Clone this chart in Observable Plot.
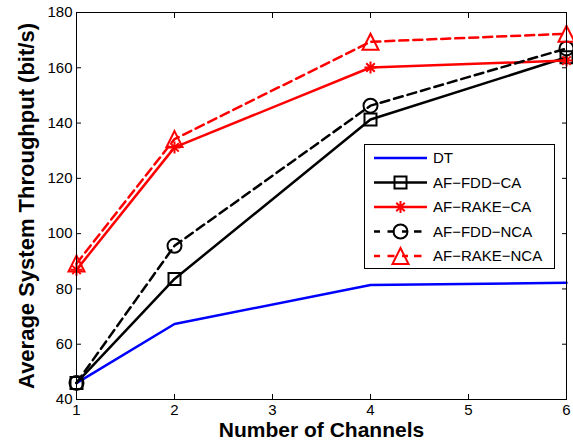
<!DOCTYPE html>
<html><head><meta charset="utf-8">
<script src="https://cdn.jsdelivr.net/npm/d3@7"></script>
<script src="https://cdn.jsdelivr.net/npm/@observablehq/plot@0.6"></script>
<style>
body{margin:0;background:#fff;}
#wrap{position:relative;width:573px;height:447px;font-family:"Liberation Sans",Arial,sans-serif;overflow:hidden;}
#legend{position:absolute;left:0;top:0;}
</style></head><body><div id="wrap"></div>
<script>
// ---- data ----
const channels = [1, 2, 4, 6];
const dt        = [45.9, 67.3, 81.4, 82.2];
const afFddCa   = [46.0, 83.6, 141.3, 163.8];
const afRakeCa  = [86.9, 131.2, 160.1, 162.6];
const afFddNca  = [46.0, 95.6, 146.3, 167.0];
const afRakeNca = [89.2, 134.2, 169.4, 172.3];
const seriesNames = ["DT", "AF\u2212FDD\u2212CA", "AF\u2212RAKE\u2212CA", "AF\u2212FDD\u2212NCA", "AF\u2212RAKE\u2212NCA"];
const xTicks = [1, 2, 3, 4, 5, 6];
const yTicks = [40, 60, 80, 100, 120, 140, 160, 180];
const xLabel = "Number of Channels";
const yLabel = "Average System Throughput (bit/s)";

// ---- custom Matlab-like symbols ----
const symSquare = {draw(ctx, size){const h = Math.sqrt(size/Math.PI); ctx.rect(-h,-h,2*h,2*h);}};
const symTriangle = {draw(ctx, size){const h = Math.sqrt(size/Math.PI); ctx.moveTo(0,-h); ctx.lineTo(h,h); ctx.lineTo(-h,h); ctx.closePath();}};
const symAsterisk = {draw(ctx, size){const h = Math.sqrt(size/Math.PI), d = h*Math.SQRT1_2;
  ctx.moveTo(-h,0); ctx.lineTo(h,0); ctx.moveTo(0,-h); ctx.lineTo(0,h);
  ctx.moveTo(-d,-d); ctx.lineTo(d,d); ctx.moveTo(-d,d); ctx.lineTo(d,-d);}};
const symCircle = {draw(ctx, size){const h = Math.sqrt(size/Math.PI); ctx.moveTo(h,0); ctx.arc(0,0,h,0,2*Math.PI);}};

const styles = [
  {color: "#0000ff", dash: null, symbol: null, r: 0},
  {color: "#000000", dash: null, symbol: symSquare, r: 6},
  {color: "#ff0000", dash: null, symbol: symAsterisk, r: 6},
  {color: "#000000", dash: "9,5", symbol: symCircle, r: 7},
  {color: "#ff0000", dash: "9,5", symbol: symTriangle, r: 8}
];
const values = [dt, afFddCa, afRakeCa, afFddNca, afRakeNca];
const rows = [];
values.forEach((vals, s) => vals.forEach((v, i) => rows.push({series: seriesNames[s], s, x: channels[i], y: v})));

const marks = [];
styles.forEach((st, s) => {
  const d = rows.filter(r => r.s === s);
  marks.push(Plot.line(d, {x: "x", y: "y", stroke: st.color, strokeWidth: 2.5, strokeDasharray: st.dash}));
  if (st.symbol) marks.push(Plot.dot(d, {x: "x", y: "y", symbol: st.symbol, r: st.r, stroke: st.color, strokeWidth: 2, fill: "none"}));
});

const chart = Plot.plot({
  width: 573, height: 447,
  marginLeft: 76, marginRight: 7, marginTop: 12, marginBottom: 48,
  style: {fontFamily: "'Liberation Sans', Arial, sans-serif", fontSize: "15px", color: "black", background: "white", overflow: "visible"},
  x: {domain: [1, 6]},
  y: {domain: [40, 180]},
  marks: [
    ...marks,
    Plot.frame({stroke: "black", strokeWidth: 1}),
    Plot.axisY({ticks: yTicks, tickSize: -5, tickPadding: 9, tickFormat: d => String(d), label: null, fontSize: 15}),
    Plot.axisY({anchor: "right", ticks: yTicks, tickSize: -5, tickFormat: () => "", label: null}),
    Plot.axisX({ticks: xTicks, tickSize: -5, tickPadding: 10, tickFormat: d => String(d), label: null, fontSize: 15}),
    Plot.axisX({anchor: "top", ticks: xTicks, tickSize: -5, tickFormat: () => "", label: null}),
    Plot.text([xLabel], {frameAnchor: "bottom", dy: 37.5, text: d => d, fontSize: 21, fontWeight: "bold", textAnchor: "middle"}),
    Plot.text([yLabel], {frameAnchor: "left", dx: -50, rotate: -90, text: d => d, fontSize: 22, fontWeight: "bold", textAnchor: "middle"})
  ]
});
const wrap = document.getElementById("wrap");
wrap.appendChild(chart);

// ---- legend overlay ----
const lg = d3.select(wrap).append("svg").attr("id", "legend").attr("width", 573).attr("height", 447);
const box = {x: 364.5, y: 144.5, w: 190, h: 124};
lg.append("rect").attr("x", box.x).attr("y", box.y).attr("width", box.w).attr("height", box.h)
  .attr("fill", "white").attr("stroke", "black").attr("stroke-width", 1);
seriesNames.forEach((name, i) => {
  const st = styles[i];
  const cy = 158 + i * 24.5;
  const g = lg.append("g");
  g.append("line").attr("x1", 374).attr("x2", 427).attr("y1", cy).attr("y2", cy)
    .attr("stroke", st.color).attr("stroke-width", 2.5).attr("stroke-dasharray", st.dash ? "6,7.5,7,7.5,6" : null);
  if (st.symbol) {
    const p = d3.path();
    st.symbol.draw(p, Math.PI * st.r * st.r);
    g.append("path").attr("d", p.toString()).attr("transform", `translate(400.5,${cy})`)
      .attr("fill", "none").attr("stroke", st.color).attr("stroke-width", 2);
  }
  g.append("text").attr("x", 433).attr("y", cy).attr("dy", "0.35em").attr("font-size", 15)
    .attr("font-family", "'Liberation Sans', Arial, sans-serif").text(name);
});
</script></body></html>
